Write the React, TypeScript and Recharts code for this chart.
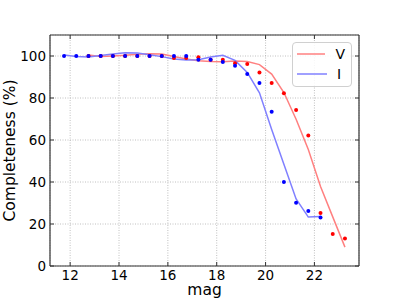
import React from "react";
import {
  ComposedChart,
  Line,
  Scatter,
  XAxis,
  YAxis,
  CartesianGrid,
  Label,
} from "recharts";

const MAG_V = [12.75, 13.25, 13.75, 14.25, 14.75, 15.25, 15.75, 16.25, 16.75, 17.25, 17.75, 18.25, 18.75, 19.25, 19.75, 20.25, 20.75, 21.25, 21.75, 22.25, 22.75, 23.25];
const V_LINE = [100.5, 99.8, 100, 100.3, 100.8, 101.1, 100.9, 99.8, 98.6, 97.7, 97.4, 97.3, 97.6, 97.4, 95.9, 91.4, 82.6, 69.9, 55.5, 37.9, 23.4, 9.0];
const V_PTS = [100, 100, 100, 100, 100, 100, 100, 99, 99, 99.4, 98.2, 98.2, 96.6, 96.2, 92.2, 87.2, 82.3, 74.3, 62.2, 25.2, 15.2, 13.1];

const MAG_I = [11.75, 12.25, 12.75, 13.25, 13.75, 14.25, 14.75, 15.25, 15.75, 16.25, 16.75, 17.25, 17.75, 18.25, 18.75, 19.25, 19.75, 20.25, 20.75, 21.25, 21.75, 22.25];
const I_LINE = [100.5, 99.8, 99.5, 100.2, 101, 101.6, 101.4, 100.6, 99.7, 98.6, 98.1, 98.2, 99.5, 100.3, 97.9, 92.2, 82.5, 65, 48.5, 31.9, 23.3, 23.6];
const I_PTS = [100, 100, 100, 100, 100, 100, 100, 100, 100, 100, 100, 98.2, 98.2, 97.2, 95.4, 91.4, 87.2, 73.4, 40, 30.1, 26.2, 23.1];

const X_TICKS = [12, 14, 16, 18, 20, 22];
const Y_TICKS = [0, 20, 40, 60, 80, 100];

const SERIES = [
  { name: "V", color: "#ff8080" },
  { name: "I", color: "#8080ff" },
];

const vData = MAG_V.map((m, i) => ({ mag: m, line: V_LINE[i], pt: V_PTS[i] }));
const iData = MAG_I.map((m, i) => ({ mag: m, line: I_LINE[i], pt: I_PTS[i] }));

const FONT = "DejaVu Sans";
const AXIS_COLOR = "#333";
const TICK_LEN = 4;

const BottomTick = (p: any) => (
  <g>
    <line x1={p.x} x2={p.x} y1={p.y} y2={p.y - TICK_LEN} stroke={AXIS_COLOR} strokeWidth={1} />
    <text x={p.x} y={p.y + 14} textAnchor="middle" fontFamily={FONT} fontSize={13.5} fill="#000">
      {p.payload.value}
    </text>
  </g>
);
const TopTick = (p: any) => (
  <line x1={p.x} x2={p.x} y1={p.y} y2={p.y + TICK_LEN} stroke={AXIS_COLOR} strokeWidth={1} />
);
const LeftTick = (p: any) => (
  <g>
    <line x1={p.x} x2={p.x + TICK_LEN} y1={p.y} y2={p.y} stroke={AXIS_COLOR} strokeWidth={1} />
    <text x={p.x - 4} y={p.y + 5} textAnchor="end" fontFamily={FONT} fontSize={13.5} fill="#000">
      {p.payload.value}
    </text>
  </g>
);
const RightTick = (p: any) => (
  <line x1={p.x} x2={p.x - TICK_LEN} y1={p.y} y2={p.y} stroke={AXIS_COLOR} strokeWidth={1} />
);

const dot = (color: string) => (p: any) => <circle cx={p.cx} cy={p.cy} r={2} fill={color} />;

const LegendBox = () => (
  <div
    style={{
      position: "absolute",
      left: 292,
      top: 42,
      width: 60,
      boxSizing: "border-box",
      border: "1px solid #d0d0d0",
      borderRadius: 4,
      background: "rgba(255,255,255,0.85)",
      padding: "1px 6px 2px 4px",
      fontFamily: FONT,
      fontSize: 14,
    }}
  >
    {SERIES.map((e) => (
      <div key={e.name} style={{ display: "flex", alignItems: "center", height: 20 }}>
        <svg width={30} height={4} style={{ marginRight: 10 }}>
          <line x1={0} x2={30} y1={2} y2={2} stroke={e.color} strokeWidth={1.5} />
        </svg>
        <span>{e.name}</span>
      </div>
    ))}
  </div>
);

export default function App() {
  return (
    <div style={{ position: "absolute", left: 0, top: 0, width: 399, height: 299 }}>
      <ComposedChart width={399} height={299} margin={{ top: 34, right: 39, left: 0, bottom: 0 }}>
        <CartesianGrid stroke="#b0b0b0" strokeDasharray="1 1.5" strokeWidth={0.8} />
        <XAxis
          xAxisId={0}
          type="number"
          dataKey="mag"
          domain={[11.175, 23.825]}
          ticks={X_TICKS}
          allowDataOverflow
          height={33}
          tickSize={0}
          tickMargin={0}
          tick={BottomTick}
          axisLine={{ stroke: AXIS_COLOR, strokeWidth: 1.2 }}
          tickLine={false}
        >
          <Label
            content={(p: any) => {
              const vb = p.viewBox;
              return (
                <text x={vb.x + vb.width / 2} y={vb.y + 29} textAnchor="middle" fontFamily={FONT} fontSize={15.5} fill="#000">
                  mag
                </text>
              );
            }}
          />
        </XAxis>
        <XAxis
          xAxisId="top"
          orientation="top"
          type="number"
          dataKey="mag"
          domain={[11.175, 23.825]}
          ticks={X_TICKS}
          allowDataOverflow
          height={1}
          tickSize={0}
          tickMargin={0}
          tick={TopTick}
          axisLine={{ stroke: AXIS_COLOR, strokeWidth: 1.2 }}
          tickLine={false}
        />
        <YAxis
          yAxisId={0}
          type="number"
          domain={[0, 110]}
          ticks={Y_TICKS}
          allowDataOverflow
          width={50}
          tickSize={0}
          tickMargin={0}
          tick={LeftTick}
          axisLine={{ stroke: AXIS_COLOR, strokeWidth: 1.2 }}
          tickLine={false}
        >
          <Label
            content={(p: any) => {
              const vb = p.viewBox;
              const cy = vb.y + vb.height / 2;
              return (
                <text
                  x={10}
                  y={cy}
                  transform={`rotate(-90 10 ${cy})`}
                  textAnchor="middle"
                  dominantBaseline="central"
                  fontFamily={FONT}
                  fontSize={15.5}
                  fill="#000"
                >
                  Completeness (%)
                </text>
              );
            }}
          />
        </YAxis>
        <YAxis
          yAxisId="right"
          orientation="right"
          type="number"
          domain={[0, 110]}
          ticks={Y_TICKS}
          allowDataOverflow
          width={1}
          tickSize={0}
          tickMargin={0}
          tick={RightTick}
          axisLine={{ stroke: AXIS_COLOR, strokeWidth: 1.2 }}
          tickLine={false}
        />
        <Line
          name="V"
          data={vData}
          dataKey="line"
          stroke={SERIES[0].color}
          strokeWidth={1.5}
          dot={false}
          activeDot={false}
          isAnimationActive={false}
        />
        <Line
          name="I"
          data={iData}
          dataKey="line"
          stroke={SERIES[1].color}
          strokeWidth={1.5}
          dot={false}
          activeDot={false}
          isAnimationActive={false}
        />
        <Scatter name="Vpts" data={vData} dataKey="pt" shape={dot("#ff0000")} isAnimationActive={false} />
        <Scatter name="Ipts" data={iData} dataKey="pt" shape={dot("#0000ff")} isAnimationActive={false} />
      </ComposedChart>
      <LegendBox />
    </div>
  );
}
